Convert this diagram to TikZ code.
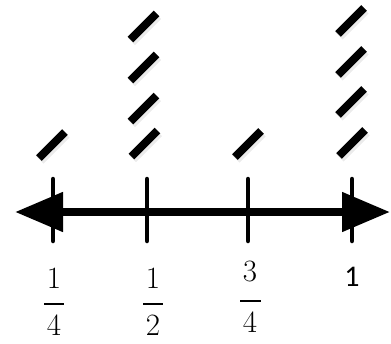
\documentclass[tikz,border=0pt]{standalone}
\usepackage{fontspec}
\setmainfont{Latin Modern Roman}
\newfontfamily\sansdigits{Carlito}
\usetikzlibrary{arrows.meta}
\tikzset{
  axis/.style={line width=8pt,{Triangle[length=48pt,width=38pt]}-{Triangle[length=48pt,width=38pt]}},
  tickmark/.style={line width=4.5pt,line cap=round},
  tally/.style={line width=8pt},
  tallyshadow/.style={line width=10pt,black,opacity=0.08},
  digit/.style={font=\fontsize{31}{31}\selectfont,inner sep=0pt},
  fracbar/.style={line width=2.6pt}
}
\begin{document}
\begin{tikzpicture}[x=1pt,y=-1pt]
\useasboundingbox (0,0) rectangle (391,343);
% number line with arrows at both ends
\coordinate (L) at (15,212);
\coordinate (R) at (390,212);
\draw[axis] (L) -- (R);
% tick marks
\foreach \n/\x in {q/53,h/147,t/248,o/352}{
  \coordinate (\n top) at (\x,179);
  \coordinate (\n bot) at (\x,241);
  \draw[tickmark] (\n top) -- (\n bot);
}
% tally marks above the ticks (each a short 45-degree bar with a faint shadow)
\foreach \cx/\cy in {52/145, 143.5/26.5, 143.5/67.5, 143.5/108.5, 144.5/143.5, 248/144, 351/21, 351/62, 351/102, 352/143}{
  \draw[tallyshadow] (\cx-12,\cy+15) -- (\cx+14,\cy-11);
  \draw[tally] (\cx-13,\cy+13) -- (\cx+13,\cy-13);
}
% fraction labels
\node[digit] (n1) at (54,278) {1};
\node[digit] (d1) at (54,325) {4};
\draw[fracbar] (44,304) -- (64,304);
\node[digit] (n2) at (153,278) {1};
\node[digit] (d2) at (153,325) {2};
\draw[fracbar] (143,304) -- (163,304);
\node[digit] (n3) at (250,271) {3};
\node[digit] (d3) at (250,322) {4};
\draw[fracbar] (240,301) -- (261,301);
\node[digit,font=\sansdigits\fontsize{30}{30}\selectfont] (one) at (352,277) {1};
\end{tikzpicture}
\end{document}
